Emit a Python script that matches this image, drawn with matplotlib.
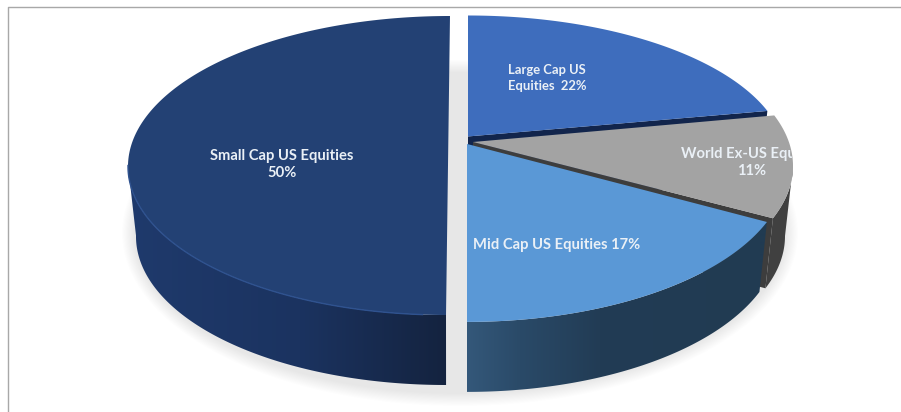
import matplotlib
matplotlib.use('Agg')
import matplotlib.pyplot as plt
import numpy as np
from matplotlib.patches import Ellipse, Polygon
from matplotlib.transforms import Bbox, TransformedBbox

# shares in percent, clockwise from 12 o'clock
categories = ['Large Cap US Equities', 'World Ex-US Equities', 'Mid Cap US Equities', 'Small Cap US Equities']
shares = [22, 11, 17, 50]
labels = ['Large Cap US\nEquities  22%', 'World Ex-US Equities\n11%', 'Mid Cap US Equities 17%', 'Small Cap US Equities\n50%']

plt.rcParams['font.family'] = ['Lato', 'DejaVu Sans']

# geometry in image pixels
k = 0.16       # perspective, moves the pie centre up inside the ellipse
depth = 70
shrink = 0.975 # lower rim is a bit narrower
# cx, yc, a, b, shear
geom = {
    'Large Cap US Equities': (468, 159.5, 318, 144, 0),
    'World Ex-US Equities': (473, 166, 320, 150, 0),
    'Mid Cap US Equities': (467, 168.5, 320, 153.4, 0),
    'Small Cap US Equities': (448, 165.5, 320, 149.5, -0.0133),
}
face = {
    'Large Cap US Equities': '#3e6dbd',
    'World Ex-US Equities': '#a3a3a3',
    'Mid Cap US Equities': '#5a98d6',
    'Small Cap US Equities': '#234174',
}

cum = np.cumsum([0] + shares) / 100 * 2 * np.pi
angles = {c: (cum[i], cum[i + 1]) for i, c in enumerate(categories)}

# rim angle of the widest point, right side and left side
widest_r = np.arccos(-k)
widest_l = 2 * np.pi - widest_r


def to_px(c, th):
    cx, yc, a, b, s = geom[c]
    u, v = np.sin(th), np.cos(th)
    w = 1 + k * v
    X = u * np.sqrt(1 - k**2) / w
    Y = (v + k) / w
    y = yc - b * Y
    return cx + a * X + s * (y - yc), y


def lower(c, x, y):
    cx = geom[c][0]
    return cx + (x - cx) * shrink, y + depth


def apex(c):
    cx, yc, a, b, s = geom[c]
    return cx - s * b * k, yc - b * k


def face_poly(c):
    th = np.linspace(angles[c][0], angles[c][1], 200)
    x, y = to_px(c, th)
    ax0, ay0 = apex(c)
    return np.column_stack([np.r_[ax0, x], np.r_[ay0, y]])


def wall_poly(c, t0, t1):
    # only the front part of the rim, the straight closing edge is the silhouette
    th = np.linspace(t0, t1, 200)
    x, y = to_px(c, th)
    xl, yl = lower(c, x, y)
    return np.column_stack([np.r_[x, xl[::-1]], np.r_[y, yl[::-1]]])


def inner_wall(c, th):
    ax0, ay0 = apex(c)
    x, y = to_px(c, th)
    xl, yl = lower(c, x, y)
    return np.array([[ax0, ay0], [x, y], [xl, yl], [ax0, ay0 + depth]])


def gradient_wall(pts, xs, cols, z):
    poly = Polygon(pts, closed=True, fc='none', ec='none', zorder=z)
    ax.add_patch(poly)
    x0, x1 = pts[:, 0].min(), pts[:, 0].max()
    y0, y1 = pts[:, 1].min(), pts[:, 1].max()
    grid = np.linspace(x0, x1, 300)
    rgb = np.array([matplotlib.colors.to_rgb(cc) for cc in cols])
    img = np.stack([np.interp(grid, xs, rgb[:, i]) for i in range(3)], axis=-1)[None, :, :]
    im = ax.imshow(img, extent=(x0, x1, y1, y0), aspect='auto', zorder=z)
    im.set_clip_path(poly)


fig = plt.figure(figsize=(9.01, 4.12), dpi=100, facecolor='white')
ax = fig.add_axes([0, 0, 1, 1])
ax.axis('off')

# frame of the picture
ax.plot([8, 8, 901], [412, 7, 7], color='#a8a8a8', lw=1, zorder=1)

# soft shadow
for i in range(12):
    g = 26 - 2.2 * i
    ax.add_patch(Ellipse((460, 233), 2 * (325 + g / 2), 2 * (160 + g / 2), fc='black', ec='none', alpha=0.009, zorder=2))

# small cap
c = 'Small Cap US Equities'
gradient_wall(wall_poly(c, angles[c][0], widest_l), [128, 300, 446], ['#1f3a6c', '#1b3360', '#14233f'], 3)
ax.add_patch(Polygon(face_poly(c), closed=True, fc=face[c], ec='none', zorder=4))
th = np.linspace(np.pi * 1.02, widest_l, 100)
ax.plot(*to_px(c, th), color='#2f528f', lw=1, zorder=4.5)

# large cap, wall is covered by the grey slice further on
c = 'Large Cap US Equities'
ax.add_patch(Polygon(inner_wall(c, angles[c][1]), closed=True, fc='#12254c', ec='none', zorder=5))
ax.add_patch(Polygon(face_poly(c), closed=True, fc=face[c], ec='none', zorder=6))

# grey
c = 'World Ex-US Equities'
ax.add_patch(Polygon(wall_poly(c, widest_r, angles[c][1]), closed=True, fc='#404040', ec='none', zorder=7))
ax.add_patch(Polygon(inner_wall(c, angles[c][1]), closed=True, fc='#3d3d3d', ec='none', zorder=7))
ax.add_patch(Polygon(face_poly(c), closed=True, fc=face[c], ec='none', zorder=8))

# mid cap
c = 'Mid Cap US Equities'
gradient_wall(wall_poly(c, angles[c][0], angles[c][1]), [467, 520, 600, 760], ['#34587a', '#2a4a68', '#223c55', '#213b52'], 9)
ax.add_patch(Polygon(face_poly(c), closed=True, fc=face[c], ec='none', zorder=10))

ax.set_xlim(0, 901)
ax.set_ylim(412, 0)

# labels
txt = dict(color='#eaf0f6', fontsize=10.6, fontweight='bold', ha='center', va='center', linespacing=1.3, zorder=12)
ax.text(282, 164.5, labels[3], **txt)
ax.text(547, 78, labels[0], **{**txt, 'fontsize': 9.4, 'linespacing': 1.4})
ax.text(556.5, 245, labels[2], **txt)
# the reference cuts this label off at the pie edge, Agg text only obeys a clip box
t = ax.text(752, 162.5, labels[1], **txt)
t.set_clip_on(True)
t.set_clip_box(TransformedBbox(Bbox([[0, 0], [792, 412]]), ax.transData))

fig.savefig('out.png', dpi=100)
